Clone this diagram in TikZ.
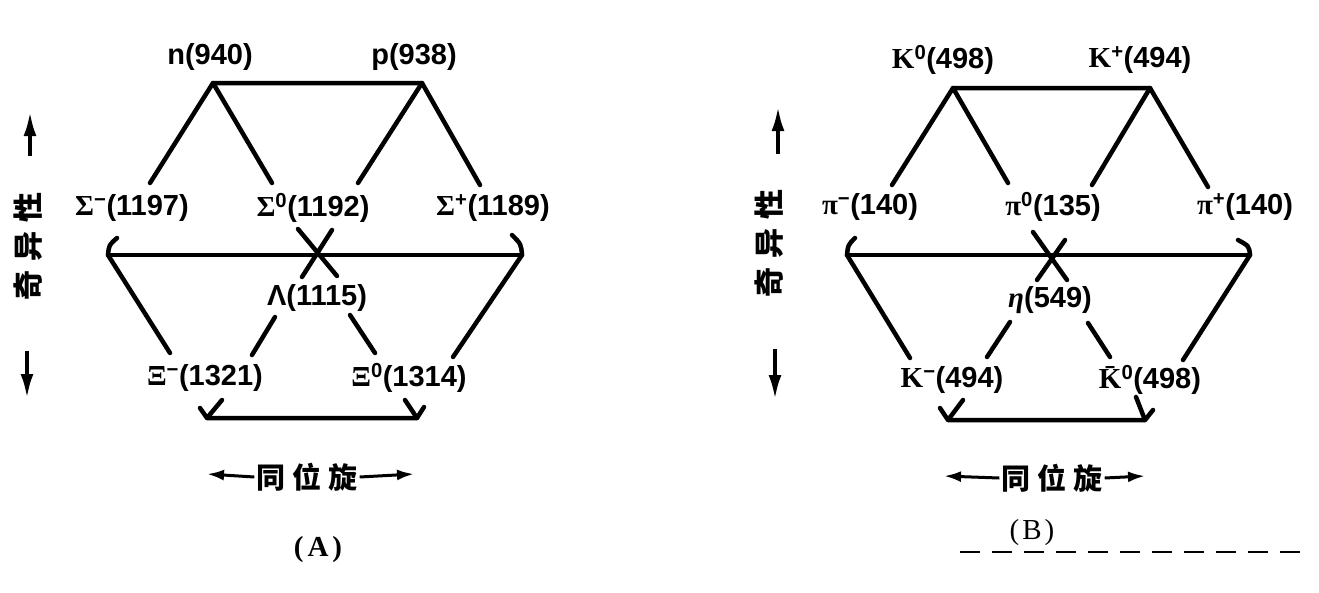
\documentclass[tikz,border=0pt]{standalone}
\usepackage{fontspec}
\setmainfont{Liberation Sans}
\newfontfamily\gk{Liberation Serif}
\newfontfamily\cjkf{Noto Sans CJK SC}
\usetikzlibrary{arrows.meta}
\newcommand\lbl{\fontsize{29}{31}\selectfont\bfseries}
\newcommand\G[1]{{\gk\bfseries #1}}
\newcommand\su[1]{\textsuperscript{#1}}
\begin{document}
\begin{tikzpicture}[x=1pt,y=-1pt,
 lab/.style={font=\lbl, inner sep=0pt},
 edge/.style={line width=4.5pt, line cap=round, line join=round},
 varr/.style={line width=3.5pt, -{Latex[length=24pt,width=13pt]}},
 harr/.style={line width=3pt, -{Latex[length=17pt,width=11pt]}},
 cjv/.style={font=\cjkf\bfseries\fontsize{30}{32}\selectfont, inner sep=0pt},
 cjh/.style={font=\cjkf\bfseries\fontsize{29}{31}\selectfont, inner sep=2pt},
 capt/.style={font=\gk\fontsize{29}{31}\selectfont, inner sep=0pt}]
\useasboundingbox (0,0) rectangle (1319,592);
\fill[white] (0,0) rectangle (1319,592);

% ---------------- (A) baryon octet ----------------
\node[lab] (n) at (210,57) {n(940)};
\node[lab] (p) at (414,57) {p(938)};
\node[lab] (Sm) at (132,208) {\G{Σ}\su{−}(1197)};
\node[lab] (S0) at (313,208) {\G{Σ}\su{0}(1192)};
\node[lab] (Sp) at (493,208) {\G{Σ}\su{+}(1189)};
\node[lab] (La) at (317,298) {Λ(1115)};
\node[lab] (Xm) at (205,378) {\G{Ξ}\su{−}(1321)};
\node[lab] (X0) at (409,378) {\G{Ξ}\su{0}(1314)};

\coordinate (aTL) at (213,83);
\coordinate (aTR) at (422,83);
\coordinate (a1) at (150,183);
\coordinate (a2) at (272,183);
\coordinate (a3) at (358,183);
\coordinate (a4) at (480,185);
\coordinate (aML) at (108,255);
\coordinate (aMR) at (522,255);
\coordinate (aMLh) at (117,238);
\coordinate (aMRh) at (512,235);
\coordinate (a5) at (170,353);
\coordinate (a6) at (453,357);
\coordinate (a7) at (275,317);
\coordinate (a8) at (252,355);
\coordinate (a9) at (350,315);
\coordinate (a10) at (375,353);
\coordinate (ax1) at (298,229);
\coordinate (ax2) at (337,276);
\coordinate (ax3) at (332,230);
\coordinate (ax4) at (302,277);
\coordinate (aBL) at (207,418);
\coordinate (aBR) at (417,418);
\coordinate (aBL1) at (222,400);
\coordinate (aBL2) at (200,408);
\coordinate (aBR1) at (405,400);
\coordinate (aBR2) at (424,407);

\draw[edge] (a1) -- (aTL) -- (aTR) -- (a4);
\draw[edge] (aTL) -- (a2);
\draw[edge] (aTR) -- (a3);
\draw[edge] (aMLh) .. controls (109,245) .. (aML) -- (a5);
\draw[edge] (aML) -- (aMR);
\draw[edge] (aMRh) .. controls (521,244) .. (aMR) -- (a6);
\draw[edge] (a7) -- (a8);
\draw[edge] (a9) -- (a10);
\draw[edge] (ax1) -- (ax2);
\draw[edge] (ax3) -- (ax4);
\draw[edge] (aBL1) -- (aBL) -- (aBR) -- (aBR2);
\draw[edge] (aBL2) -- (aBL);
\draw[edge] (aBR1) -- (aBR);

\node[cjv, rotate=90] (sA) at (28,246) {奇\hspace{9pt}异\hspace{9pt}性};
\coordinate (uA0) at (30,156);
\coordinate (uA1) at (30,112);
\coordinate (dA0) at (27,351);
\coordinate (dA1) at (27,398);
\draw[varr] (uA0) -- (uA1);
\draw[varr] (dA0) -- (dA1);

\node[cjh] (iA) at (307,477) {同\hspace{7pt}位\hspace{7pt}旋};
\coordinate (hA1) at (207,474);
\coordinate (hA2) at (414,474);
\draw[harr] (iA.west) -- (hA1);
\draw[harr] (iA.east) -- (hA2);
\node[capt, font=\gk\bfseries\fontsize{29}{31}\selectfont] (cA) at (318,550) {(\hspace{4pt}A\hspace{4pt})};

% ---------------- (B) meson octet ----------------
\node[lab] (K0) at (943,60) {\G{K}\su{0}(498)};
\node[lab] (Kp) at (1140,60) {\G{K}\su{+}(494)};
\node[lab] (pim) at (870,207) {\G{π}\su{−}(140)};
\node[lab] (pi0) at (1053,207) {\G{π}\su{0}(135)};
\node[lab] (pip) at (1245,207) {\G{π}\su{+}(140)};
\node[lab] (eta) at (1050,300) {{\gk\itshape η}(549)};
\node[lab] (Km) at (952,380) {\G{K}\su{−}(494)};
\node[lab] (Kb) at (1150,380) {\G{\={K}}\su{0}(498)};

\coordinate (bTL) at (953,88);
\coordinate (bTR) at (1150,88);
\coordinate (b1) at (892,185);
\coordinate (b2) at (1008,183);
\coordinate (b3) at (1092,185);
\coordinate (b4) at (1208,187);
\coordinate (bML) at (847,255);
\coordinate (bMR) at (1250,255);
\coordinate (bMLh) at (855,238);
\coordinate (bMRh) at (1238,240);
\coordinate (b5) at (910,358);
\coordinate (b6) at (1183,360);
\coordinate (b7) at (1010,322);
\coordinate (b8) at (987,357);
\coordinate (b9) at (1088,323);
\coordinate (b10) at (1110,357);
\coordinate (bx1) at (1033,232);
\coordinate (bx2) at (1067,280);
\coordinate (bx3) at (1065,240);
\coordinate (bx4) at (1037,280);
\coordinate (bBL) at (948,420);
\coordinate (bBR) at (1145,420);
\coordinate (bBL1) at (963,400);
\coordinate (bBL2) at (940,408);
\coordinate (bBR1) at (1136,397);
\coordinate (bBR2) at (1153,410);

\draw[edge] (b1) -- (bTL) -- (bTR) -- (b4);
\draw[edge] (bTL) -- (b2);
\draw[edge] (bTR) -- (b3);
\draw[edge] (bMLh) .. controls (848,245) .. (bML) -- (b5);
\draw[edge] (bML) -- (bMR);
\draw[edge] (bMRh) .. controls (1249,246) .. (bMR) -- (b6);
\draw[edge] (b7) -- (b8);
\draw[edge] (b9) -- (b10);
\draw[edge] (bx1) -- (bx2);
\draw[edge] (bx3) -- (bx4);
\draw[edge] (bBL1) -- (bBL) -- (bBR) -- (bBR2);
\draw[edge] (bBL2) -- (bBL);
\draw[edge] (bBR1) -- (bBR);

\node[cjv, rotate=90] (sB) at (769,243) {奇\hspace{9pt}异\hspace{9pt}性};
\coordinate (uB0) at (778,154);
\coordinate (uB1) at (778,107);
\coordinate (dB0) at (775,349);
\coordinate (dB1) at (775,399);
\draw[varr] (uB0) -- (uB1);
\draw[varr] (dB0) -- (dB1);

\node[cjh] (iB) at (1052,478) {同\hspace{7pt}位\hspace{7pt}旋};
\coordinate (hB1) at (944,476);
\coordinate (hB2) at (1145,476);
\draw[harr] (iB.west) -- (hB1);
\draw[harr] (iB.east) -- (hB2);
\node[capt] (cB) at (1032,533) {(\hspace{3pt}B\hspace{3pt})};

\coordinate (dl0) at (960,552);
\coordinate (dl1) at (1305,552);
\draw[line width=1.8pt, dash pattern=on 20pt off 12pt] (dl0) -- (dl1);
\end{tikzpicture}
\end{document}
